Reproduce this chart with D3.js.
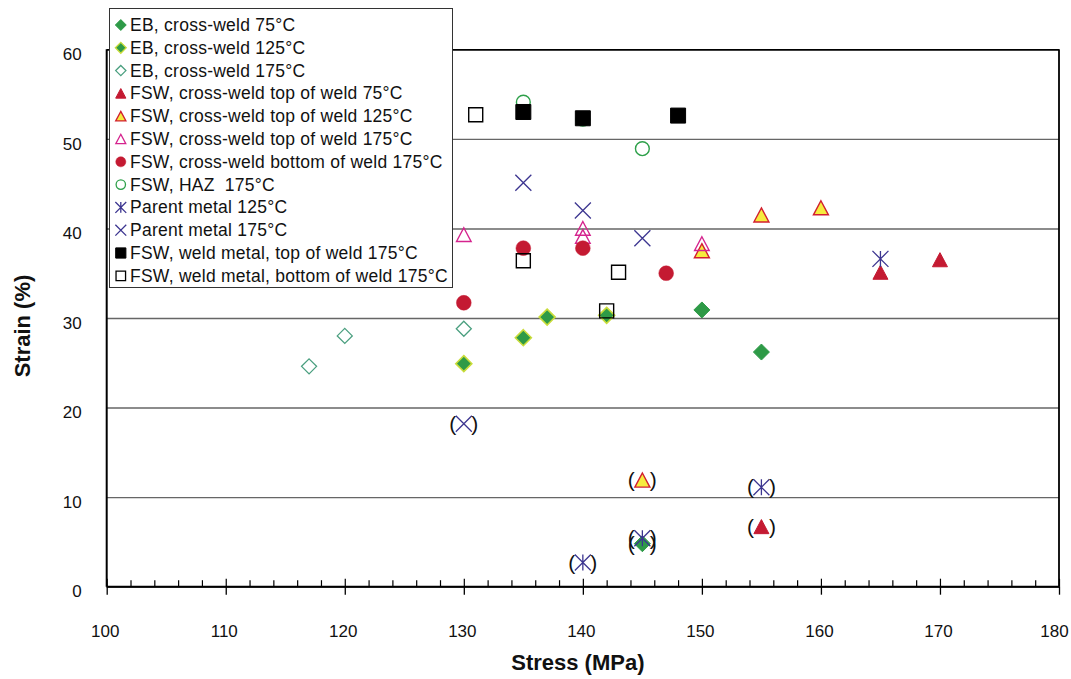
<!DOCTYPE html>
<meta charset="utf-8">
<script src="https://d3js.org/d3.v7.min.js"></script>
<style>
  body { margin: 0; background: #fff; }
  text { font-family: "Liberation Sans", Arial, Helvetica, sans-serif; }
</style>
<div id="chart"></div>
<script>
// Data: [stress MPa, strain %, bracketed?]
const ebCross75 = [[150, 30.9], [155, 26.2], [145, 4.8, true]];
const ebCross125 = [[130, 24.9], [135, 27.8], [137, 30.1], [142, 30.3]];
const ebCross175 = [[117, 24.6], [120, 28.0], [130, 28.8]];
const fswTop75 = [[165, 35.1], [170, 36.5], [155, 6.7, true]];
const fswTop125 = [[150, 37.5], [155, 41.5], [160, 42.3], [145, 11.9, true]];
const fswTop175 = [[130, 39.3], [140, 40.0], [140, 39.1], [150, 38.3]];
const fswBottom175 = [[130, 31.7], [135, 37.8], [140, 37.8], [147, 35.0]];
const fswHaz175 = [[135, 54.1], [140, 52.2], [145, 48.9]];
const parent125 = [[165, 36.6], [155, 11.1, true], [145, 5.4, true], [140, 2.7, true]];
const parent175 = [[135, 45.1], [140, 42.0], [145, 38.9], [130, 18.2, true]];
const weldTop175 = [[135, 53.0], [140, 52.3], [148, 52.6]];
const weldBottom175 = [[131, 52.7], [135, 36.4], [143, 35.1], [142, 30.8]];

const seriesNames = [
  "EB, cross-weld 75°C",
  "EB, cross-weld 125°C",
  "EB, cross-weld 175°C",
  "FSW, cross-weld top of weld 75°C",
  "FSW, cross-weld top of weld 125°C",
  "FSW, cross-weld top of weld 175°C",
  "FSW, cross-weld bottom of weld 175°C",
  "FSW, HAZ  175°C",
  "Parent metal 125°C",
  "Parent metal 175°C",
  "FSW, weld metal, top of weld 175°C",
  "FSW, weld metal, bottom of weld 175°C"
];
const seriesData = [ebCross75, ebCross125, ebCross175, fswTop75, fswTop125, fswTop175,
  fswBottom175, fswHaz175, parent125, parent175, weldTop175, weldBottom175];

const xTicks = [100, 110, 120, 130, 140, 150, 160, 170, 180];
const yTicks = [0, 10, 20, 30, 40, 50, 60];

// marker styles
const styles = [
  {shape: "diamond", s: 8, fill: "#2e9a47", stroke: "#2e9a47", sw: 1},
  {shape: "diamond", s: 8, fill: "#2e9a47", stroke: "#c9dc3a", sw: 1.6},
  {shape: "diamond", s: 7.5, fill: "none", stroke: "#4a9f7f", sw: 1.3},
  {shape: "triangle", s: 7.5, fill: "#c41a32", stroke: "#c41a32", sw: 1},
  {shape: "triangle", s: 7.5, fill: "#f6ec3e", stroke: "#d21f2f", sw: 1.4},
  {shape: "triangle", s: 7.3, fill: "none", stroke: "#d5248e", sw: 1.4},
  {shape: "circle", s: 7.4, fill: "#c41a32", stroke: "#c41a32", sw: 0.5},
  {shape: "circle", s: 6.9, fill: "none", stroke: "#2ea04a", sw: 1.4},
  {shape: "star", s: 8, fill: "none", stroke: "#3c3590", sw: 1.3},
  {shape: "x", s: 8, fill: "none", stroke: "#3c3590", sw: 1.3},
  {shape: "square", s: 7.5, fill: "#000", stroke: "#000", sw: 1},
  {shape: "square", s: 7, fill: "none", stroke: "#000", sw: 1.4}
];

const shapes = {
  diamond: s => `M0,${-s}L${s},0L0,${s}L${-s},0Z`,
  triangle: s => `M0,${-0.95 * s}L${s},${0.93 * s}L${-s},${0.93 * s}Z`,
  circle: s => `M${s},0A${s},${s} 0 1,1 ${-s},0A${s},${s} 0 1,1 ${s},0Z`,
  square: s => `M${-s},${-s}H${s}V${s}H${-s}Z`,
  x: s => `M${-s},${-s}L${s},${s}M${-s},${s}L${s},${-s}`,
  star: s => `M${-s},${-s}L${s},${s}M${-s},${s}L${s},${-s}M0,${-s}V${s}`
};

const margin = {top: 49.3, right: 12, bottom: 92.3, left: 106.7},
  W = 1071, H = 679,
  width = W - margin.left - margin.right,
  height = H - margin.top - margin.bottom;

const svg = d3.select("#chart").append("svg")
  .attr("width", W).attr("height", H);
const g = svg.append("g")
  .attr("transform", `translate(${margin.left}, ${margin.top})`);

const x = d3.scaleLinear().domain([100, 180]).range([0, width]);
const y = d3.scaleLinear().domain([0, 60]).range([height, 0]);

// y gridlines + labels
const yAxis = g.append("g")
  .call(d3.axisLeft(y).tickValues(yTicks).tickSize(-width).tickPadding(25));
yAxis.select(".domain").remove();
yAxis.selectAll("line")
  .attr("stroke", d => d === 60 ? "#000" : "#666")
  .attr("stroke-width", d => d === 60 ? 1.8 : 1.4);
yAxis.selectAll("text")
  .attr("dy", "0.6em")
  .style("font-size", "17px").attr("fill", "#111");

// x axis: major ticks below with labels, minor/major ticks above
const xAxis = g.append("g")
  .attr("transform", `translate(0, ${height})`)
  .call(d3.axisBottom(x).tickValues(xTicks).tickSize(8).tickPadding(30));
xAxis.select(".domain").remove();
xAxis.selectAll("line").attr("stroke", "#000").attr("stroke-width", 1.3);
xAxis.selectAll("text")
  .attr("dx", d => d === 180 ? -5 : -2)
  .style("font-size", "17px").attr("fill", "#111");

const xMinor = g.append("g")
  .attr("transform", `translate(0, ${height})`)
  .call(d3.axisTop(x).tickValues(d3.range(100, 181, 2)).tickFormat(""));
xMinor.select(".domain").remove();
xMinor.selectAll("line")
  .attr("y2", d => d % 10 === 0 ? -8 : -6.5)
  .attr("stroke", "#000").attr("stroke-width", 1.2);

// frame: left axis, bottom axis, right border
g.append("line").attr("x1", 0).attr("x2", 0).attr("y1", 0).attr("y2", height)
  .attr("stroke", "#000").attr("stroke-width", 2);
g.append("line").attr("x1", 0).attr("x2", width).attr("y1", height).attr("y2", height)
  .attr("stroke", "#000").attr("stroke-width", 2);
g.append("line").attr("x1", width).attr("x2", width).attr("y1", 0).attr("y2", height)
  .attr("stroke", "#000").attr("stroke-width", 1.8);

// markers
seriesData.forEach((data, i) => {
  const st = styles[i];
  const sg = g.append("g");
  sg.selectAll("path")
    .data(data)
    .join("path")
    .attr("transform", d => `translate(${x(d[0])}, ${y(d[1])})`)
    .attr("d", shapes[st.shape](st.s))
    .attr("fill", st.fill)
    .attr("stroke", st.stroke)
    .attr("stroke-width", st.sw);
  // brackets around excluded points
  const br = sg.selectAll("g.br")
    .data(data.filter(d => d[2]))
    .join("g")
    .attr("class", "br")
    .attr("transform", d => `translate(${x(d[0])}, ${y(d[1])})`);
  br.append("text").attr("x", -11).attr("y", 7).attr("text-anchor", "middle")
    .style("font-size", "21px").attr("fill", "#111").text("(");
  br.append("text").attr("x", 11).attr("y", 7).attr("text-anchor", "middle")
    .style("font-size", "21px").attr("fill", "#111").text(")");
});

// legend
const legend = svg.append("g").attr("transform", "translate(109.5, 8.5)");
legend.append("rect")
  .attr("width", 343).attr("height", 279)
  .attr("fill", "#fff").attr("stroke", "#333").attr("stroke-width", 1);
const items = legend.selectAll("g.item")
  .data(seriesNames)
  .join("g")
  .attr("class", "item")
  .attr("transform", (d, i) => `translate(0, ${16.5 + i * 22.8})`);
items.append("path")
  .attr("transform", "translate(11.3, 0)")
  .attr("d", (d, i) => shapes[styles[i].shape](styles[i].s * 0.68))
  .attr("fill", (d, i) => styles[i].fill)
  .attr("stroke", (d, i) => styles[i].stroke)
  .attr("stroke-width", (d, i) => Math.min(styles[i].sw, 1.3));
items.append("text")
  .attr("x", 20.5).attr("y", 6)
  .style("font-size", "17.5px").style("letter-spacing", "0.25px")
  .attr("fill", "#111")
  .style("white-space", "pre")
  .text(d => d);

// axis titles
svg.append("text")
  .attr("x", margin.left + width / 2 - 5).attr("y", 670)
  .attr("text-anchor", "middle")
  .style("font-size", "22px").style("font-weight", "bold").attr("fill", "#111")
  .text("Stress (MPa)");
svg.append("text")
  .attr("transform", "translate(30, 326) rotate(-90)")
  .attr("text-anchor", "middle")
  .style("font-size", "22px").style("font-weight", "bold").attr("fill", "#111")
  .text("Strain (%)");
</script>
